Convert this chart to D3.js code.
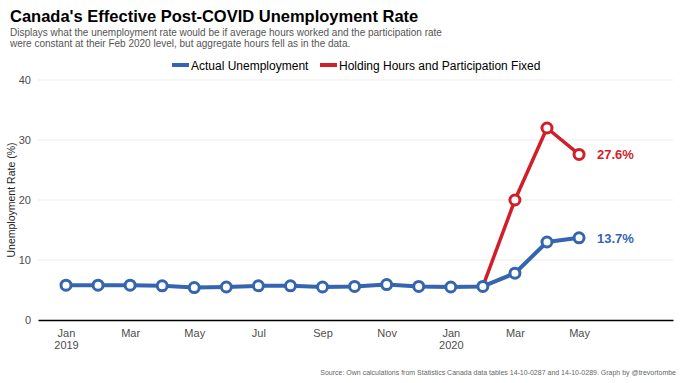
<!DOCTYPE html>
<html><head><meta charset="utf-8">
<script src="https://cdn.jsdelivr.net/npm/d3@7"></script>
<style>body{margin:0;background:#fff}svg{display:block;font-family:Arial,"Liberation Sans",sans-serif}</style>
</head><body><svg id="c" width="680" height="383"></svg>
<script>
const months = ["Jan 2019","Feb 2019","Mar 2019","Apr 2019","May 2019","Jun 2019","Jul 2019","Aug 2019","Sep 2019","Oct 2019","Nov 2019","Dec 2019","Jan 2020","Feb 2020","Mar 2020","Apr 2020","May 2020"];
const actual = [5.8,5.8,5.8,5.7,5.4,5.5,5.7,5.7,5.5,5.6,5.9,5.6,5.5,5.6,7.8,13.0,13.7];
const fixedMonths = ["Feb 2020","Mar 2020","Apr 2020","May 2020"];
const fixed = [5.6,20.0,32.0,27.6];
const yTicks = [0,10,20,30,40];
const xTickMonths = ["Jan 2019","Mar 2019","May 2019","Jul 2019","Sep 2019","Nov 2019","Jan 2020","Mar 2020","May 2020"];
const xTickLabels = [["Jan","2019"],["Mar"],["May"],["Jul"],["Sep"],["Nov"],["Jan","2020"],["Mar"],["May"]];
const seriesNames = ["Actual Unemployment","Holding Hours and Participation Fixed"];
const colors = ["#3565b1","#d01f2a"];

const svg = d3.select("#c");
const L = 38, R = 673, T = 80, B = 320;
const idx = m => months.indexOf(m);
const x = d3.scaleLinear().domain([-0.873, 18.93]).range([L, R]);
const y = d3.scaleLinear().domain([0, 40]).range([B, T]);

// gridlines
svg.append("g").selectAll("line").data(yTicks.filter(d=>d>0)).join("line")
  .attr("x1", L).attr("x2", R).attr("y1", d=>y(d)).attr("y2", d=>y(d))
  .attr("stroke", "#ebebeb").attr("stroke-width", 1);

// y axis labels
const ya = svg.append("g").attr("transform", `translate(${L},0)`)
  .call(d3.axisLeft(y).tickValues(yTicks).tickSize(0).tickPadding(7));
ya.select(".domain").remove();
ya.selectAll("text").attr("font-size", 11).attr("fill", "#4d4d4d").attr("font-family","Arial,'Liberation Sans',sans-serif");

// x axis
const xa = svg.append("g").attr("transform", `translate(0,${B})`)
  .call(d3.axisBottom(x).tickValues(xTickMonths.map(idx)).tickSize(0).tickFormat(""));
xa.select(".domain").attr("stroke", "#000").attr("stroke-width", 1.5);
xa.selectAll(".tick").each(function(d, i){
  const t = d3.select(this).append("text").attr("fill", "#4d4d4d").attr("font-size", 11)
    .attr("text-anchor", "middle").attr("font-family","Arial,'Liberation Sans',sans-serif");
  xTickLabels[i].forEach((s, j) => t.append("tspan").attr("x", 0).attr("y", 17 + j*12).text(s));
});

// y title
svg.append("text").attr("transform", `translate(15,${(T+B)/2}) rotate(-90)`)
  .attr("text-anchor", "middle").attr("font-size", 10.5).attr("fill", "#222").text("Unemployment Rate (%)");

const line = d3.line().x(d=>x(d[0])).y(d=>y(d[1]));
const dataA = actual.map((v,i)=>[i,v]);
const dataF = fixed.map((v,i)=>[idx(fixedMonths[i]),v]);

svg.append("path").datum(dataF).attr("d", line).attr("fill","none").attr("stroke", colors[1]).attr("stroke-width", 3.5).attr("stroke-linejoin","round");
svg.append("path").datum(dataA).attr("d", line).attr("fill","none").attr("stroke", colors[0]).attr("stroke-width", 4).attr("stroke-linejoin","round");

svg.append("g").selectAll("circle").data(dataF.slice(1)).join("circle")
  .attr("cx", d=>x(d[0])).attr("cy", d=>y(d[1])).attr("r", 5)
  .attr("fill", "#fff").attr("stroke", colors[1]).attr("stroke-width", 3);
svg.append("g").selectAll("circle").data(dataA).join("circle")
  .attr("cx", d=>x(d[0])).attr("cy", d=>y(d[1])).attr("r", 5)
  .attr("fill", "#fff").attr("stroke", colors[0]).attr("stroke-width", 3);

// end labels
const lastA = dataA[dataA.length-1], lastF = dataF[dataF.length-1];
svg.append("text").attr("x", x(lastF[0]) + 18).attr("y", y(lastF[1]) + 5)
  .attr("font-size", 13).attr("font-weight", "bold").attr("fill", colors[1]).text(lastF[1].toFixed(1) + "%");
svg.append("text").attr("x", x(lastA[0]) + 18).attr("y", y(lastA[1]) + 5)
  .attr("font-size", 13).attr("font-weight", "bold").attr("fill", colors[0]).text(lastA[1].toFixed(1) + "%");

// legend
const legX = [172, 320];
seriesNames.forEach((n, i) => {
  svg.append("rect").attr("x", legX[i]).attr("y", 63).attr("width", 17).attr("height", 4).attr("fill", colors[i]);
  svg.append("text").attr("x", legX[i] + 19).attr("y", 69.5).attr("font-size", 12).attr("fill", "#000").text(n);
});

// titles
svg.append("text").attr("x", 10).attr("y", 22).attr("font-size", 16.5).attr("font-weight", "bold").attr("fill", "#000")
  .text("Canada's Effective Post-COVID Unemployment Rate");
svg.append("text").attr("x", 10).attr("y", 36).attr("font-size", 10).attr("fill", "#555")
  .text("Displays what the unemployment rate would be if average hours worked and the participation rate");
svg.append("text").attr("x", 10).attr("y", 47).attr("font-size", 10).attr("fill", "#555")
  .text("were constant at their Feb 2020 level, but aggregate hours fell as in the data.");
svg.append("text").attr("x", 676).attr("y", 375).attr("text-anchor", "end").attr("font-size", 7).attr("fill", "#666")
  .text("Source: Own calculations from Statistics Canada data tables 14-10-0287 and 14-10-0289. Graph by @trevortombe");
</script></body></html>
